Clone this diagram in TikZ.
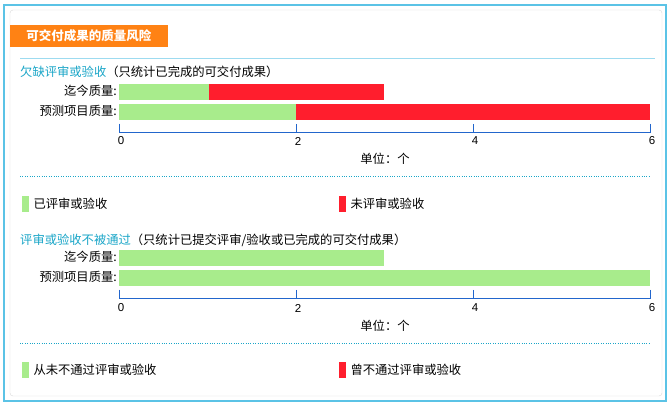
\documentclass[tikz,border=0pt]{standalone}
\usepackage{fontspec}
\setmainfont{Liberation Sans}
\newfontfamily\cjk{Noto Sans CJK SC}
\definecolor{gb}{HTML}{A8EC8C}
\definecolor{rb}{HTML}{FF1E2D}
\definecolor{ttl}{HTML}{1AA6C8}
\definecolor{org}{HTML}{FF8214}
\definecolor{frm}{HTML}{5BC3E6}
\definecolor{ax}{HTML}{2266CC}
\begin{document}
\begin{tikzpicture}[x=1pt,y=-1pt,font=\cjk\fontsize{12.3}{14}\selectfont,
 lbl/.style={anchor=east,inner sep=1pt},
 tk/.style={font=\fontsize{11.5}{12}\selectfont,inner sep=1pt}]
\useasboundingbox (0,0) rectangle (670,406);
\fill[white] (0,0) rectangle (670,406);
\draw[frm,line width=1.5pt] (4,5) rectangle (666,401);
\draw[gray!30,rounded corners=3pt] (10,10) rectangle (662,396);
\node[fill=org,text=white,minimum width=158pt,minimum height=22pt,inner sep=0pt,font=\cjk\bfseries\fontsize{12.5}{14}\selectfont] (t) at (89,36) {可交付成果的质量风险};
\draw[frm!60] (20,58) -- (655,58);
% section 1
\node[anchor=west,inner sep=0pt] (h1) at (20,72) {\textcolor{ttl}{欠缺评审或验收}（只统计已完成的可交付成果）};
\node[lbl] (a1) at (118,91) {迄今质量:};
\node[lbl] (a2) at (118,111) {预测项目质量:};
\fill[gb] (119,84) rectangle (209,100);
\fill[rb] (209,84) rectangle (384,100);
\fill[gb] (119,104) rectangle (296,120);
\fill[rb] (296,104) rectangle (650,120);
\draw[ax] (119,124) -- (119,132) -- (650,132) -- (650,124);
\foreach \i in {0,2,4,6}{\draw[ax] (119+88.5*\i,124) -- (119+88.5*\i,132); \node[tk] at (121+88.5*\i,141) {\i};}
\node (u1) at (385,159) {单位：个};
\draw[ttl,dotted] (20,176) -- (650,176);
\fill[gb] (22,196) rectangle (29,212); \node[anchor=west] (l1) at (30,204) {已评审或验收};
\fill[rb] (339,196) rectangle (346,212); \node[anchor=west] (l2) at (347,204) {未评审或验收};
% section 2
\node[anchor=west,inner sep=0pt] (h2) at (20,240) {\textcolor{ttl}{评审或验收不被通过}（只统计已提交评审/验收或已完成的可交付成果）};
\node[lbl] (b1) at (118,257) {迄今质量:};
\node[lbl] (b2) at (118,277) {预测项目质量:};
\fill[gb] (119,250) rectangle (384,266);
\fill[gb] (119,270) rectangle (650,286);
\draw[ax] (119,290) -- (119,298) -- (650,298) -- (650,290);
\foreach \i in {0,2,4,6}{\draw[ax] (119+88.5*\i,290) -- (119+88.5*\i,298); \node[tk] at (121+88.5*\i,308) {\i};}
\node (u2) at (385,326) {单位：个};
\draw[ttl,dotted] (20,343) -- (650,343);
\fill[gb] (22,362) rectangle (29,378); \node[anchor=west] (m1) at (30,370) {从未不通过评审或验收};
\fill[rb] (339,362) rectangle (346,378); \node[anchor=west] (m2) at (347,370) {曾不通过评审或验收};
\end{tikzpicture}
\end{document}
